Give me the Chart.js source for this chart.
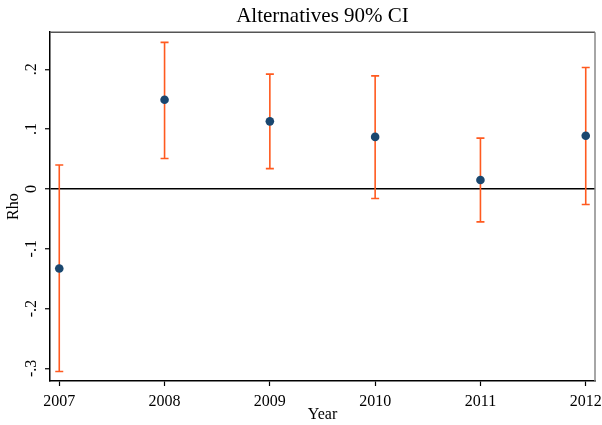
<!DOCTYPE html>
<html>
<head>
<meta charset="utf-8">
<script src="https://cdn.jsdelivr.net/npm/chart.js@4.4.1/dist/chart.umd.min.js"></script>
<style>
  html, body { margin: 0; padding: 0; background: #fff; }
  #wrap { width: 602px; height: 425px; }
</style>
</head>
<body>
<div id="wrap"><canvas id="chart"></canvas></div>
<script>
// =========================
// Data
// =========================
const years = [2007, 2008, 2009, 2010, 2011, 2012];
const rho = [-0.133, 0.149, 0.113, 0.087, 0.015, 0.089];
const ciLow = [-0.305, 0.051, 0.034, -0.016, -0.055, -0.026];
const ciHigh = [0.040, 0.245, 0.192, 0.189, 0.085, 0.203];
const yTicks = [-0.3, -0.2, -0.1, 0, 0.1, 0.2];
const yTickLabels = ['-.3', '-.2', '-.1', '0', '.1', '.2'];

const serif = "'Liberation Serif', 'Times New Roman', serif";
const ciColor = '#ff5a1f';
const dotColor = '#1a476f';

// error bars (drawn behind the dots)
const errorBars = {
  id: 'errorBars',
  beforeDatasetsDraw(chart) {
    const { ctx, scales: { x, y } } = chart;
    ctx.save();
    ctx.strokeStyle = ciColor;
    ctx.lineWidth = 1.6;
    years.forEach((yr, i) => {
      const px = x.getPixelForValue(yr);
      const top = y.getPixelForValue(ciHigh[i]);
      const bot = y.getPixelForValue(ciLow[i]);
      ctx.beginPath();
      ctx.moveTo(px, top); ctx.lineTo(px, bot);
      ctx.moveTo(px - 4, top); ctx.lineTo(px + 4, top);
      ctx.moveTo(px - 4, bot); ctx.lineTo(px + 4, bot);
      ctx.stroke();
    });
    ctx.restore();
  }
};

// plot box (top / right) + rotated y labels
const frame = {
  id: 'frame',
  afterDraw(chart) {
    const { ctx, chartArea: a, scales: { y } } = chart;
    ctx.save();
    ctx.lineWidth = 1.5;
    ctx.strokeStyle = '#555';
    ctx.beginPath();
    ctx.moveTo(a.left, a.top); ctx.lineTo(a.right, a.top);
    ctx.stroke();
    ctx.strokeStyle = '#888';
    ctx.beginPath();
    ctx.moveTo(a.right, a.top); ctx.lineTo(a.right, a.bottom);
    ctx.stroke();

    ctx.fillStyle = '#000';
    ctx.font = '16px ' + serif;
    ctx.textAlign = 'center';
    ctx.textBaseline = 'middle';
    yTicks.forEach((v, i) => {
      ctx.save();
      ctx.translate(32, y.getPixelForValue(v));
      ctx.rotate(-Math.PI / 2);
      ctx.fillText(yTickLabels[i], 0, 0);
      ctx.restore();
    });
    ctx.restore();
  }
};

new Chart(document.getElementById('chart'), {
  type: 'scatter',
  data: {
    datasets: [{
      label: 'Rho',
      data: years.map((yr, i) => ({ x: yr, y: rho[i] })),
      backgroundColor: dotColor,
      borderWidth: 0,
      pointRadius: 4.3,
      pointHoverRadius: 4.3
    }]
  },
  options: {
    responsive: true,
    maintainAspectRatio: false,
    animation: false,
    layout: { padding: { top: 0, right: 7, bottom: 0, left: 0 } },
    plugins: {
      legend: { display: false },
      tooltip: { enabled: false },
      title: {
        display: true,
        fullSize: false,
        text: 'Alternatives 90% CI',
        color: '#000',
        font: { family: serif, size: 21, weight: 'normal' },
        padding: { top: 4, bottom: 3 }
      }
    },
    scales: {
      x: {
        type: 'linear',
        min: 2006.912,
        max: 2012.088,
        afterBuildTicks: s => { s.ticks = years.map(v => ({ value: v })); },
        afterFit: s => { s.height = 44; s.paddingLeft = 0; s.paddingRight = 0; },
        ticks: {
          color: '#000',
          font: { family: serif, size: 16 },
          padding: 6,
          maxRotation: 0,
          callback: v => String(v)
        },
        grid: { drawOnChartArea: false, tickLength: 5, tickColor: '#000', tickWidth: 1.2 },
        border: { color: '#000', width: 1.5 },
        title: {
          display: true,
          text: 'Year',
          color: '#000',
          font: { family: serif, size: 16 },
          padding: { top: 0, bottom: 1 }
        }
      },
      y: {
        min: -0.321,
        max: 0.262,
        afterBuildTicks: s => { s.ticks = yTicks.map(v => ({ value: v })); },
        afterFit: s => { s.width = 50; s.paddingTop = 0; s.paddingBottom = 0; },
        ticks: { display: false },
        grid: {
          color: c => (c.tick && c.tick.value === 0 ? '#000' : 'rgba(0,0,0,0)'),
          lineWidth: 1.5,
          tickLength: 5,
          tickColor: '#000',
          tickWidth: 1.2
        },
        border: { color: '#000', width: 1.5 },
        title: {
          display: true,
          text: 'Rho',
          color: '#000',
          font: { family: serif, size: 16 },
          padding: { top: 4, bottom: 0 }
        }
      }
    }
  },
  plugins: [errorBars, frame]
});
</script>
</body>
</html>
